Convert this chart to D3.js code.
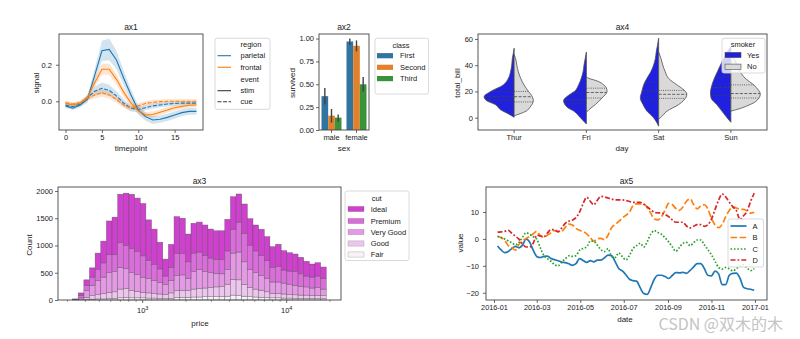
<!DOCTYPE html>
<html><head><meta charset="utf-8">
<script src="https://cdn.jsdelivr.net/npm/d3@7"></script>
<style>
body{margin:0;background:#fff}
svg{display:block;font-family:"Liberation Sans",Arial,sans-serif}
</style>
</head><body><svg id="c" width="800" height="339"></svg>
<script>
// ---------------- DATA ----------------
// ax1 (fmri)
const timepoints = [0,1,2,3,4,5,6,7,8,9,10,11,12,13,14,15,16,17,18];
const parietalStim = [-0.025,-0.038,-0.02,0.01,0.14,0.276,0.284,0.226,0.126,0.034,-0.048,-0.084,-0.102,-0.098,-0.088,-0.075,-0.062,-0.055,-0.055];
const frontalStim  = [-0.01,-0.02,-0.01,0.02,0.1,0.175,0.175,0.12,0.05,-0.01,-0.05,-0.075,-0.072,-0.06,-0.048,-0.035,-0.028,-0.022,-0.02];
const parietalCue  = [-0.02,-0.03,-0.015,0.02,0.055,0.071,0.06,0.03,-0.01,-0.038,-0.045,-0.035,-0.025,-0.02,-0.015,-0.012,-0.01,-0.01,-0.01];
const frontalCue   = [-0.008,-0.015,-0.008,0.015,0.035,0.047,0.035,0.01,-0.02,-0.038,-0.025,-0.012,-0.005,-0.002,0,0,0,0,0];
const ciParietalStim = [0.012,0.01,0.012,0.02,0.035,0.055,0.06,0.05,0.04,0.03,0.025,0.022,0.022,0.02,0.02,0.02,0.018,0.018,0.018];
const ciFrontalStim  = [0.012,0.01,0.012,0.015,0.025,0.03,0.03,0.028,0.025,0.02,0.018,0.016,0.016,0.015,0.015,0.015,0.014,0.014,0.014];
const ciParietalCue  = [0.012,0.01,0.012,0.015,0.025,0.032,0.03,0.025,0.02,0.018,0.016,0.014,0.014,0.013,0.013,0.013,0.012,0.012,0.012];
const ciFrontalCue   = [0.012,0.01,0.01,0.012,0.02,0.022,0.02,0.018,0.016,0.015,0.014,0.013,0.013,0.012,0.012,0.012,0.012,0.012,0.012];

// ax2 (titanic)
const sexes = ["male","female"];
const classes = ["First","Second","Third"];
const survMale = [0.37,0.157,0.135];
const survFemale = [0.968,0.921,0.5];
const errMale = [[0.28,0.46],[0.08,0.23],[0.09,0.17]];
const errFemale = [[0.93,1.0],[0.86,0.98],[0.42,0.58]];

// ax3 (diamonds, log-binned price)
const priceMin = 326, priceMax = 18823, nBins = 45;
const histIdeal   = [5,50,100,170,300,400,620,690,890,960,1000,980,960,740,650,490,310,420,680,650,510,547,550,556,532,530,530,580,595,515,541,492,476,477,442,378,402,355,338,324,303,270,240,244,205];
const histPremium = [5,30,100,150,200,260,330,310,450,420,440,420,390,340,290,250,160,240,400,390,300,340,320,300,270,250,260,340,440,550,520,440,400,370,320,270,290,240,240,250,230,200,200,210,200];
const histVeryGood= [4,30,120,190,260,300,360,370,400,370,330,310,280,260,240,210,180,230,280,280,230,320,350,300,270,250,230,270,480,510,420,330,300,270,250,210,210,200,190,175,160,150,135,145,120];
const histGood    = [3,15,40,65,80,100,115,120,160,160,130,120,100,95,85,80,75,100,125,130,120,145,155,160,170,180,185,220,290,290,210,170,145,130,105,80,80,75,65,65,60,60,55,60,55];
const histFair    = [3,5,10,15,20,20,25,30,40,50,40,40,40,35,35,30,25,30,45,50,50,55,55,60,60,60,65,70,90,80,70,60,55,50,45,40,40,35,35,30,30,30,30,25,25];
const cutsLegend = ["Ideal","Premium","Very Good","Good","Fair"];

// ax4 (tips violins) : [total_bill, relative half-width]
const days = ["Thur","Fri","Sat","Sun"];
const yesThur = [[0.3,0],[3,0.2],[6,0.45],[10,0.63],[13,0.92],[16,1.0],[20,0.78],[25,0.36],[30,0.19],[35,0.12],[40,0.08],[45,0.06],[50,0.02],[53,0]];
const noThur  = [[1.5,0],[3,0.2],[5,0.4],[8,0.53],[13,0.64],[17,0.58],[20,0.48],[25,0.33],[30,0.22],[35,0.14],[40,0.09],[45,0.05],[48,0]];
const yesFri  = [[-4.8,0],[0,0.2],[5,0.42],[8,0.64],[13,0.76],[17,0.6],[20,0.4],[25,0.26],[30,0.17],[35,0.11],[40,0.08],[45,0.04],[50,0]];
const noFri   = [[4,0],[6,0.08],[10,0.3],[15,0.52],[20,0.69],[23,0.66],[25,0.58],[28,0.36],[30,0.08],[31,0]];
const yesSat  = [[-6.5,0],[0,0.17],[5,0.39],[10,0.52],[15,0.61],[20,0.56],[25,0.5],[30,0.39],[35,0.26],[40,0.17],[45,0.11],[50,0.08],[55,0.04],[60.6,0]];
const noSat   = [[-1,0],[0,0.06],[5,0.28],[10,0.67],[13,0.83],[18,0.94],[21,0.85],[25,0.61],[30,0.33],[35,0.22],[40,0.14],[45,0.08],[50,0]];
const yesSun  = [[-3.5,0],[0,0.13],[5,0.3],[10,0.47],[15,0.66],[19,0.68],[25,0.63],[30,0.55],[35,0.45],[40,0.35],[45,0.24],[50,0.13],[54,0]];
const noSun   = [[5,0],[7,0.31],[10,0.64],[12,0.81],[18,0.98],[21,0.92],[25,0.76],[30,0.48],[35,0.31],[40,0.2],[45,0.11],[48,0]];
const quartYes = [[13,16,20],[11,13.5,19],[13.5,20.4,26.8],[17,23,31]];
const quartNo  = [[12,16,20],[15,19.2,22.5],[14.7,17.8,20.8],[15,18.4,25]];

// ax5 (random walks, 7-day rolling) sampled every 5 days from 2016-01-06
const seriesNames = ["A","B","C","D"];
const walkA = [-2.6,-4.1,-5.1,-4.7,-3.6,-2.8,-3.3,-2.3,0,-1.2,-4.2,-6.5,-6.9,-6.5,-6.4,-7.3,-7.7,-8.1,-8.6,-8.8,-9.2,-9.8,-9.2,-7.3,-8,-8.7,-8.1,-8.5,-7.9,-7.9,-7,-6,-6.2,-8.5,-11,-11.9,-13.3,-15,-15.5,-15.7,-18.1,-20.3,-20.6,-18,-14.9,-13.5,-13.5,-14,-14.7,-13.6,-12.5,-12.6,-12.4,-12.8,-11.7,-10.4,-9.2,-9.2,-11,-13.5,-13.7,-12,-13,-17,-17,-13.5,-12.8,-12.7,-14.6,-18,-18.5,-18.7,-19.1];
const walkB = [0.9,0.5,-0.5,-2.5,-3.2,-4.2,-2,-0.7,0.2,0.9,1.9,2.8,1.2,0.7,1.4,2.3,3.1,2.8,2.9,4.3,5.5,5.2,3.9,3.2,2.7,1.9,0.5,-0.8,0.1,0.2,-0.3,1.4,4.2,5.4,6.5,7.8,8.8,9.9,12.4,13,13,13.1,11.6,9.5,7.4,7.1,8.3,10.7,13.2,12.8,11.3,10.6,11.9,14,14.9,12.8,11.2,12.3,12.7,11.1,7.6,5.2,4.2,5.4,8.3,10.6,11.9,11.5,11,11,10.4,9.6,9.9];
const walkC = [1,0.5,0,-0.7,-1.4,-2.2,-1.3,0.6,2.3,1.7,0.8,-0.1,-3.3,-6.2,-7.3,-8.3,-9.6,-10,-8.6,-7.4,-6.3,-6.5,-6.2,-4.2,-3.5,-3,-0.8,-0.9,-2.3,-4,-4.7,-3.6,-6.5,-6.9,-5.2,-6.6,-7.8,-6.1,-3.6,-2.5,-1.6,-3,-1,1.8,3.1,2.4,1.7,0.4,-1.1,-2.9,-4.6,-3.2,-1.6,-1.3,-2.5,-1.4,-0.4,-0.4,-2.2,-4,-5.9,-8.2,-10.6,-11.2,-10.6,-11.1,-11.9,-11,-10.2,-9.6,-10.8,-11.8,-11.1];
const walkD = [2.5,2.6,2.8,3.2,2.1,1,-0.1,-1.9,-3,-3,-1.6,1.4,1.1,0.8,2.2,3.5,3.4,2.6,4.1,5.8,6.6,7,7.9,10,13.1,15.5,14,12.7,14.4,15.8,15.6,15.2,14.8,14.5,14.5,14.5,14.3,13.9,13.6,13.6,13.6,12.9,11.9,10.8,9.9,9.7,9.6,9.1,8.3,7.1,6.2,6.2,6.2,4.8,4.1,4.7,5.3,5.3,4.7,5.3,7.4,10.9,14.4,16.7,15.6,13.7,11.9,10.5,7.2,8.6,10.3,14,17];
const walkDates = d3.timeDay.range(new Date(2016,0,6), new Date(2017,0,1), 5);

// ---------------- HELPERS ----------------
const svg = d3.select("#c");
svg.append("rect").attr("width",800).attr("height",339).attr("fill","#fff");
const INK = "#1a1a1a", SPINE = "#444";
function label(x,y,s,o={}){
  const t = svg.append("text").attr("x",x).attr("y",y).text(s)
    .attr("text-anchor",o.anchor||"middle").attr("dominant-baseline","central")
    .style("font-size",(o.size||8)+"px").attr("fill",o.fill||INK);
  if(o.rotate) t.attr("transform",`rotate(-90,${x},${y})`);
  return t;
}
function frame(x0,y0,x1,y1){
  svg.append("rect").attr("x",x0).attr("y",y0).attr("width",x1-x0).attr("height",y1-y0)
    .attr("fill","none").attr("stroke",SPINE).attr("stroke-width",0.9);
}
function styleAxis(g,fs=7.5){
  g.select(".domain").remove();
  g.selectAll(".tick line").attr("stroke",SPINE).attr("stroke-width",0.8);
  g.selectAll(".tick text").attr("fill",INK).style("font-size",fs+"px").style("font-family",'"Liberation Sans",Arial,sans-serif');
}
function xAxis(scale,y,ticks,fmt,pad=2,fs=7.5){
  const a = d3.axisBottom(scale).tickSize(3).tickPadding(pad);
  if(ticks) a.tickValues(ticks);
  if(fmt) a.tickFormat(fmt);
  const g = svg.append("g").attr("transform",`translate(0,${y})`).call(a); styleAxis(g,fs); return g;
}
function yAxis(scale,x,ticks,fmt,pad=2){
  const a = d3.axisLeft(scale).tickSize(3).tickPadding(pad).tickValues(ticks);
  if(fmt) a.tickFormat(fmt);
  const g = svg.append("g").attr("transform",`translate(${x},0)`).call(a); styleAxis(g); return g;
}
function legendBox(x0,y0,x1,y1,op=0.8){
  svg.append("rect").attr("x",x0).attr("y",y0).attr("width",x1-x0).attr("height",y1-y0).attr("rx",2)
    .attr("fill","#fff").attr("fill-opacity",op).attr("stroke","#d0d0d0").attr("stroke-width",0.8);
}
const minus = s => s.replace("-","\u2212");

// ---------------- ax1 ----------------
{
  const X0=59,X1=203,Y0=34,Y1=130;
  const x = d3.scaleLinear([-0.9,18.9],[X0,X1]);
  const y = d3.scaleLinear([-0.157,0.368],[Y1,Y0]);
  const blue="#1f77b4", orange="#ff7f0e";
  const series = [
    {m:parietalStim,c:ciParietalStim,col:blue,dash:null},
    {m:parietalCue,c:ciParietalCue,col:blue,dash:"4,1.6"},
    {m:frontalStim,c:ciFrontalStim,col:orange,dash:null},
    {m:frontalCue,c:ciFrontalCue,col:orange,dash:"4,1.6"}
  ];
  const area = d3.area().x((d,i)=>x(timepoints[i])).y0((d,i)=>y(d[0]-d[1])).y1((d,i)=>y(d[0]+d[1]));
  const line = d3.line().x((d,i)=>x(timepoints[i])).y(d=>y(d));
  series.forEach(s=>{
    svg.append("path").attr("d",area(s.m.map((v,i)=>[v,s.c[i]]))).attr("fill",s.col).attr("fill-opacity",0.2);
  });
  series.forEach(s=>{
    svg.append("path").attr("d",line(s.m)).attr("fill","none").attr("stroke",s.col).attr("stroke-width",1.1)
      .attr("stroke-dasharray",s.dash);
  });
  frame(X0,Y0,X1,Y1);
  xAxis(x,Y1,[0,5,10,15],d3.format("d"));
  yAxis(y,X0,[0,0.2],d3.format(".1f"),4);
  label((X0+X1)/2,27,"ax1",{size:8.5});
  label((X0+X1)/2,148,"timepoint");
  label(36,83,"signal",{rotate:true});
  // legend
  legendBox(215,38.3,270,109.3);
  const rows=[["region",null,null],["parietal",blue,null],["frontal",orange,null],["event",null,null],["stim","#3a3a3a",null],["cue","#3a3a3a","4,1.6"]];
  const ry=[44.3,55.7,67.3,79.3,90.7,101.7];
  rows.forEach((r,i)=>{
    if(r[1]) svg.append("line").attr("x1",217.5).attr("x2",231).attr("y1",ry[i]).attr("y2",ry[i])
      .attr("stroke",r[1]).attr("stroke-width",1.1).attr("stroke-dasharray",r[2]);
    label(240.5,ry[i],r[0],{anchor:"start",size:7.5});
  });
}

// ---------------- ax2 ----------------
{
  const X0=319,X1=369,Y0=34,Y1=130;
  const x = d3.scaleBand(sexes,[X0,X1]);
  const xi = d3.scaleBand(classes,[x.bandwidth()*0.1,x.bandwidth()*0.9]);
  const y = d3.scaleLinear([0,1.05],[Y1,Y0]);
  const cols = ["#3274a1","#e1812c","#3a923a"];
  const vals = {male:survMale,female:survFemale}, errs={male:errMale,female:errFemale};
  sexes.forEach(s=>{
    classes.forEach((c,j)=>{
      const bx = x(s)+xi(c);
      svg.append("rect").attr("x",bx).attr("y",y(vals[s][j])).attr("width",xi.bandwidth()).attr("height",y(0)-y(vals[s][j])).attr("fill",cols[j]);
      svg.append("line").attr("x1",bx+xi.bandwidth()/2).attr("x2",bx+xi.bandwidth()/2)
        .attr("y1",y(errs[s][j][0])).attr("y2",y(errs[s][j][1])).attr("stroke","#424242").attr("stroke-width",1.4);
    });
  });
  frame(X0,Y0,X1,Y1);
  xAxis(x,Y1);
  yAxis(y,X0,[0,0.25,0.5,0.75,1.0],d3.format(".2f"),2);
  label((X0+X1)/2,27,"ax2",{size:8.5});
  label(344,148,"sex");
  label(292,83,"survived",{rotate:true});
  legendBox(375,38.3,428.5,94);
  label(401,45,"class",{size:7.5});
  const ry=[55.7,67.3,78.6];
  classes.forEach((c,j)=>{
    svg.append("rect").attr("x",377).attr("y",ry[j]-2.6).attr("width",16).attr("height",5.2).attr("fill",cols[j]);
    label(400,ry[j],c,{anchor:"start",size:7.5});
  });
}

// ---------------- ax4 ----------------
{
  const X0=478,X1=767,Y0=34,Y1=130;
  const x = d3.scaleBand(days,[X0,X1]);
  const y = d3.scaleLinear([-9.4,63.8],[Y1,Y0]);
  const H = 30;
  const yesP=[yesThur,yesFri,yesSat,yesSun], noP=[noThur,noFri,noSat,noSun];
  const widthAt=(p,v)=>{for(let i=1;i<p.length;i++){if(v<=p[i][0]){const t=(v-p[i-1][0])/(p[i][0]-p[i-1][0]);return p[i-1][1]+t*(p[i][1]-p[i-1][1]);}}return 0;};
  days.forEach((d,k)=>{
    const cx = x(d)+x.bandwidth()/2;
    const left = d3.area().curve(d3.curveMonotoneY).y(p=>y(p[0])).x0(cx).x1(p=>cx-p[1]*H);
    const right = d3.area().curve(d3.curveMonotoneY).y(p=>y(p[0])).x0(cx).x1(p=>cx+p[1]*H);
    svg.append("path").attr("d",left(yesP[k])).attr("fill","#2020df").attr("stroke","#4d4d4d").attr("stroke-width",0.8);
    svg.append("path").attr("d",right(noP[k])).attr("fill","#d9d9d9").attr("stroke","#4d4d4d").attr("stroke-width",0.8);
    quartYes[k].forEach((q,i)=>{
      svg.append("line").attr("x1",cx).attr("x2",cx-widthAt(yesP[k],q)*H).attr("y1",y(q)).attr("y2",y(q))
        .attr("stroke","#444").attr("stroke-width",0.8).attr("stroke-dasharray",i==1?"3,1.5":"1,1.2");
    });
    quartNo[k].forEach((q,i)=>{
      svg.append("line").attr("x1",cx).attr("x2",cx+widthAt(noP[k],q)*H).attr("y1",y(q)).attr("y2",y(q))
        .attr("stroke","#444").attr("stroke-width",0.8).attr("stroke-dasharray",i==1?"3,1.5":"1,1.2");
    });
  });
  frame(X0,Y0,X1,Y1);
  xAxis(x,Y1);
  yAxis(y,X0,[0,20,40,60],d3.format("d"),2);
  label((X0+X1)/2,27,"ax4",{size:8.5});
  label(622,148,"day");
  label(457,83,"total_bill",{rotate:true});
  legendBox(722,38.3,765,73,0.8);
  label(743,44.5,"smoker",{size:7.5});
  [["Yes","#2020df",55],["No","#d9d9d9",66.7]].forEach(r=>{
    svg.append("rect").attr("x",725).attr("y",r[2]-2.6).attr("width",16).attr("height",5.2).attr("fill",r[1]).attr("stroke","#4d4d4d").attr("stroke-width",0.6);
    label(747,r[2],r[0],{anchor:"start",size:7.5});
  });
}

// ---------------- ax3 ----------------
{
  const X0=58,X1=341,Y0=187,Y1=300;
  const x = d3.scaleLog([Math.pow(10,2.412),Math.pow(10,4.377)],[X0,X1]);
  const y = d3.scaleLinear([0,2073],[Y1,Y0]);
  const lo=Math.log10(priceMin), hi=Math.log10(priceMax);
  const edges = d3.range(nBins+1).map(i=>Math.pow(10,lo+i*(hi-lo)/nBins));
  const colors = {"Ideal":"rgb(207,64,207)","Premium":"rgb(217,109,217)","Very Good":"rgb(227,153,227)","Good":"rgb(237,198,237)","Fair":"rgb(247,242,247)"};
  const rows = histIdeal.map((_,i)=>({"Fair":histFair[i],"Good":histGood[i],"Very Good":histVeryGood[i],"Premium":histPremium[i],"Ideal":histIdeal[i]}));
  const stacked = d3.stack().keys(["Fair","Good","Very Good","Premium","Ideal"])(rows);
  stacked.forEach(layer=>{
    layer.forEach((d,i)=>{
      svg.append("rect").attr("x",x(edges[i])).attr("width",x(edges[i+1])-x(edges[i]))
        .attr("y",y(d[1])).attr("height",y(d[0])-y(d[1]))
        .attr("fill",colors[layer.key]).attr("stroke","rgba(77,77,77,0.7)").attr("stroke-width",0.5);
    });
  });
  frame(X0,Y0,X1,Y1);
  // log axis
  const minor=[];[100,1000,10000].forEach(b=>{for(let k=2;k<=9;k++){const v=b*k;if(x(v)>X0&&x(v)<X1&&v!==1000&&v!==10000)minor.push(v);}});
  minor.forEach(v=>svg.append("line").attr("x1",x(v)).attr("x2",x(v)).attr("y1",Y1).attr("y2",Y1+1.8).attr("stroke",SPINE).attr("stroke-width",0.6));
  [1000,10000].forEach((v,i)=>{
    svg.append("line").attr("x1",x(v)).attr("x2",x(v)).attr("y1",Y1).attr("y2",Y1+3).attr("stroke",SPINE).attr("stroke-width",0.8);
    const t = svg.append("text").attr("x",x(v)).attr("y",313).attr("text-anchor","middle").style("font-size","7.5px").attr("fill",INK);
    t.append("tspan").text("10");
    t.append("tspan").text(i==0?"3":"4").attr("dy",-3).style("font-size","5.5px");
  });
  yAxis(y,X0,[0,500,1000,1500,2000],d3.format("d"),2);
  label((X0+X1)/2,181,"ax3",{size:8.5});
  label(200,323,"price");
  label(29,245,"Count",{rotate:true});
  legendBox(345,191,409,260.5);
  label(376.7,198,"cut",{size:7.5});
  const ry=[209,221,232,243.5,254.5];
  cutsLegend.forEach((c,j)=>{
    svg.append("rect").attr("x",348).attr("y",ry[j]-2.6).attr("width",16).attr("height",5.2).attr("fill",colors[c]).attr("stroke","rgba(77,77,77,0.5)").attr("stroke-width",0.4);
    label(370.7,ry[j],c,{anchor:"start",size:7.5});
  });
}

// ---------------- ax5 ----------------
{
  const X0=486,X1=767,Y0=187,Y1=300;
  const t0=new Date(2016,0,1);
  const x = d3.scaleTime([new Date(+t0-11.2*864e5),new Date(+t0+382.9*864e5)],[X0,X1]);
  const y = d3.scaleLinear([-22.7,19.3],[Y1,Y0]);
  const cols=["#1f77b4","#ff7f0e","#2ca02c","#d62728"];
  const dashes=[null,"6.5,2.6","1.6,1.8","5,2,1.8,2"];
  const walks=[walkA,walkB,walkC,walkD];
  walks.forEach((w,k)=>{
    const line=d3.line().curve(d3.curveMonotoneX).x((d,i)=>x(walkDates[i])).y(d=>y(d));
    svg.append("path").attr("d",line(w)).attr("fill","none").attr("stroke",cols[k]).attr("stroke-width",1.7)
      .attr("stroke-dasharray",dashes[k]);
  });
  frame(X0,Y0,X1,Y1);
  const tks=[new Date(2016,0,1),new Date(2016,2,1),new Date(2016,4,1),new Date(2016,6,1),new Date(2016,8,1),new Date(2016,10,1),new Date(2017,0,1)];
  xAxis(x,Y1,tks,d3.timeFormat("%Y-%m"),2,7.3);
  yAxis(y,X0,[-20,-10,0,10],d=>minus(String(d)),4);
  label((X0+X1)/2,181,"ax5",{size:8.5});
  label(625,319,"date");
  label(460,243,"value",{rotate:true});
  legendBox(728,219,763.5,267);
  const ry=[226,237.5,249,260];
  seriesNames.forEach((n,k)=>{
    svg.append("line").attr("x1",730.5).attr("x2",746.5).attr("y1",ry[k]).attr("y2",ry[k]).attr("stroke",cols[k]).attr("stroke-width",1.7).attr("stroke-dasharray",dashes[k]);
    label(752.5,ry[k],n,{anchor:"start",size:7.5});
  });
}

// watermark
svg.append("text").attr("x",783).attr("y",330).attr("text-anchor","end")
  .style("font-family",'"Noto Sans CJK SC","Noto Sans",sans-serif').style("font-size","16px")
  .attr("fill","#c4c4c4").text("CSDN @双木的木");
</script></body></html>
